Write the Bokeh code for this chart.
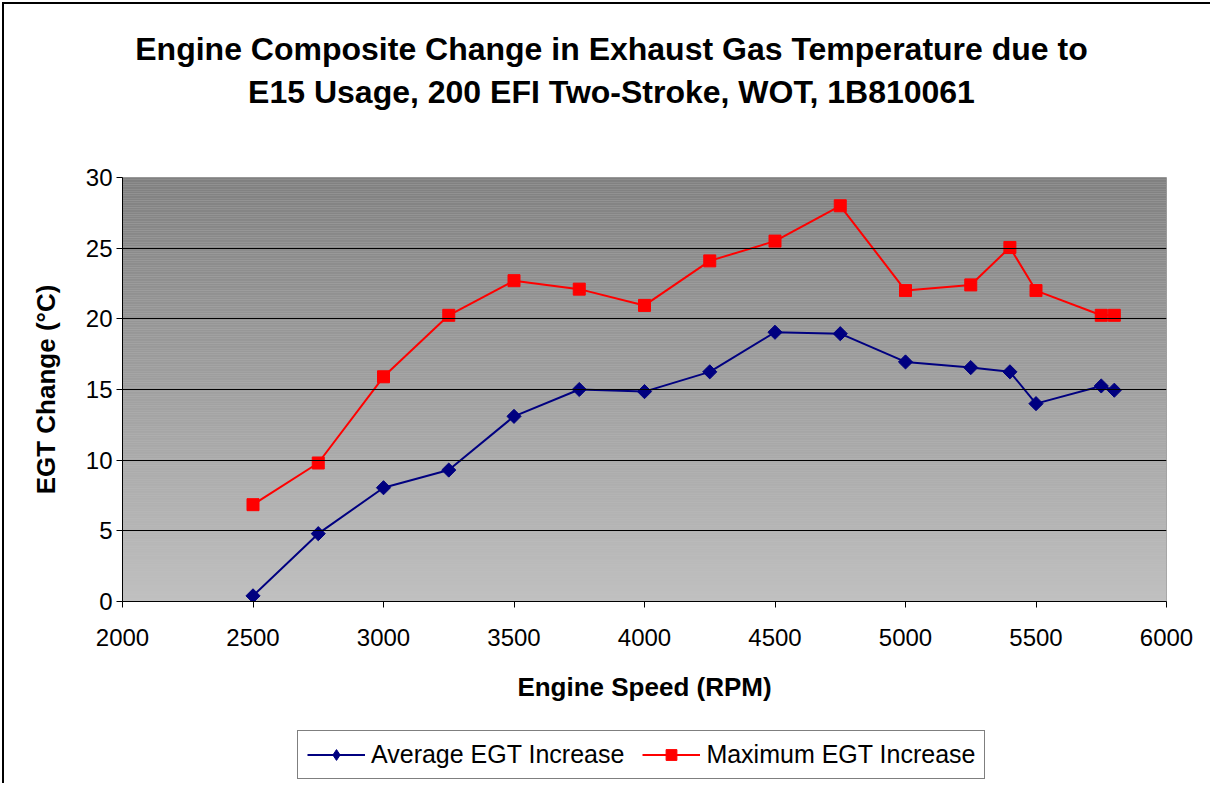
import math
from bokeh.plotting import figure
from bokeh.layouts import column
from bokeh.models import (Label, Legend, LegendItem, FixedTicker, ColumnDataSource)
from bokeh.embed import file_html
from bokeh.resources import INLINE

# ---- data ----
rpm = [2500, 2750, 3000, 3250, 3500, 3750, 4000, 4250, 4500, 4750,
       5000, 5250, 5400, 5500, 5750, 5800]
avg_egt = [0.4, 4.8, 8.05, 9.3, 13.1, 15.0, 14.85, 16.25, 19.05, 18.95,
           16.95, 16.55, 16.25, 14.0, 15.25, 14.95]
max_egt = [6.85, 9.8, 15.9, 20.25, 22.7, 22.1, 20.95, 24.1, 25.5, 28.0,
           22.0, 22.4, 25.05, 22.0, 20.25, 20.25]
x_ticks = [2000, 2500, 3000, 3500, 4000, 4500, 5000, 5500, 6000]
y_ticks = [0, 5, 10, 15, 20, 25, 30]
grid_ticks = [5, 10, 15, 20, 25]
series_names = ["Average EGT Increase", "Maximum EGT Increase"]
title_lines = ["Engine Composite Change in Exhaust Gas Temperature due to",
               "E15 Usage, 200 EFI Two-Stroke, WOT, 1B810061"]

FONT = "Liberation Sans"
W = 1210
AVG_C = "#000080"
MAX_C = "#ff0000"
EDGE_LEFT = {"box-shadow": "inset 2px 0 0 0 white, inset 4px 0 0 0 black"}
EDGE_LEFT_TOP = {"box-shadow": "inset 2px 2px 0 0 white, inset 4px 4px 0 0 black"}

src = ColumnDataSource(dict(x=rpm, avg=avg_egt, mx=max_egt))

# ---------------- title strip ----------------
t = figure(width=W, height=162, x_range=(0, 1), y_range=(0, 1),
           output_backend="svg", toolbar_location=None,
           x_axis_type=None, y_axis_type=None, min_border=0)
t.title = None
t.outline_line_color = None
t.border_fill_alpha = 0
t.background_fill_alpha = 0
t.styles = EDGE_LEFT_TOP
for i, line in enumerate(title_lines):
    t.add_layout(Label(x=489, y=114 - 43 * i, x_units="screen", y_units="screen",
                       text=line, text_align="center", text_baseline="middle",
                       text_font=FONT, text_font_size="32px",
                       text_font_style="bold", text_color="black"))

# ---------------- main chart ----------------
p = figure(width=W, height=559, x_range=(2000, 6000), y_range=(0, 30),
           output_backend="svg", toolbar_location=None,
           min_border_left=122, min_border_right=44,
           min_border_top=15, min_border_bottom=120)
p.title = None
p.background_fill_color = "#c0c0c0"
p.border_fill_alpha = 0
p.styles = EDGE_LEFT
p.outline_line_color = "#a0a0a0"
p.outline_line_width = 1

# gradient background (styling): dark grey at top to light grey at bottom
n = 240
bottoms, tops, colors = [], [], []
y0, y1 = p.y_range.start, p.y_range.end
for i in range(n):
    b = y0 + (y1 - y0) * i / n
    tp = y0 + (y1 - y0) * (i + 1) / n
    frac = (i + 0.5) / n
    c = int(round(192 - (192 - 128) * frac))
    bottoms.append(b); tops.append(tp); colors.append("#%02x%02x%02x" % (c, c, c))
p.quad(left=p.x_range.start, right=p.x_range.end, bottom=bottoms, top=tops,
       fill_color=colors, line_color=None)

p.xgrid.visible = False
p.ygrid.ticker = FixedTicker(ticks=grid_ticks)
p.ygrid.grid_line_color = "black"
p.ygrid.grid_line_width = 1
p.ygrid.level = "glyph"

p.line("x", "avg", source=src, line_color=AVG_C, line_width=2)
p.scatter("x", "avg", source=src, marker="square", angle=math.pi / 4,
          size=10, fill_color=AVG_C, line_color=AVG_C)
p.line("x", "mx", source=src, line_color=MAX_C, line_width=2)
p.scatter("x", "mx", source=src, marker="square", size=12,
          fill_color=MAX_C, line_color=MAX_C)

for ax in (p.xaxis[0], p.yaxis[0]):
    ax.axis_line_color = "black"
    ax.axis_line_width = 1
    ax.major_tick_line_color = "black"
    ax.major_tick_out = 6
    ax.major_tick_in = 0
    ax.minor_tick_line_color = None
    ax.major_label_text_font = FONT
    ax.major_label_text_font_size = "24px"
    ax.major_label_text_color = "black"
    ax.axis_label_text_font = FONT
    ax.axis_label_text_font_size = "26px"
    ax.axis_label_text_font_style = "bold"
    ax.axis_label_text_color = "black"

p.xaxis.ticker = FixedTicker(ticks=x_ticks)
p.yaxis.ticker = FixedTicker(ticks=y_ticks)
p.xaxis.axis_label = "Engine Speed (RPM)"
p.yaxis.axis_label = "EGT Change (°C)"
p.xaxis.major_label_standoff = 21
p.xaxis.axis_label_standoff = 23
p.yaxis.major_label_standoff = 4
p.yaxis.axis_label_standoff = 22

# ---------------- legend strip ----------------
lf = figure(width=W, height=62, x_range=(0, 1), y_range=(0, 1),
            output_backend="svg", toolbar_location=None,
            x_axis_type=None, y_axis_type=None, min_border=0)
lf.title = None
lf.outline_line_color = None
lf.border_fill_alpha = 0
lf.background_fill_alpha = 0
lf.styles = EDGE_LEFT
# legend sample renderers (same data, lie outside this strip's ranges)
la = lf.line("x", "avg", source=src, line_color=AVG_C, line_width=2)
sa = lf.scatter("x", "avg", source=src, marker="diamond", size=18,
                fill_color=AVG_C, line_color=AVG_C)
lm = lf.line("x", "mx", source=src, line_color=MAX_C, line_width=2)
sm = lf.scatter("x", "mx", source=src, marker="square", size=12,
                fill_color=MAX_C, line_color=MAX_C)

legend = Legend(items=[LegendItem(label=series_names[0], renderers=[la, sa]),
                       LegendItem(label=series_names[1], renderers=[lm, sm])],
                location=(175, 4), orientation="horizontal",
                label_text_font=FONT, label_text_font_size="25px",
                label_text_color="black",
                glyph_width=58, glyph_height=27, label_height=27,
                label_standoff=6, spacing=18, padding=9, margin=0,
                border_line_color="black", border_line_width=1,
                background_fill_color="white", background_fill_alpha=1)
lf.add_layout(legend, "center")

layout = column(t, p, lf, spacing=0)
open("out.html", "w").write(file_html(layout, INLINE))
